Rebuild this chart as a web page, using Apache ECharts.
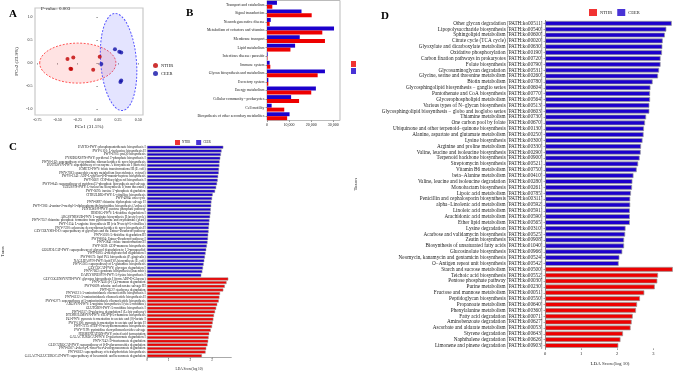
<!DOCTYPE html>
<html>
<head>
<meta charset="utf-8">
<script src="https://cdn.jsdelivr.net/npm/echarts@6/dist/echarts.min.js"></script>
<style>
html, body { margin: 0; padding: 0; background: #fff; }
#chart { width: 675px; height: 376px; }
</style>
</head>
<body>
<div id="chart"></div>
<script>
// panel A - PCoA
const pcoaNTHR = [[-0.377, 0.087], [-0.305, 0.12], [-0.33, -0.13], [-0.34, -0.125], [-0.058, -0.146], [0.023, 0.137]];
const pcoaCEER = [[0.043, -0.02], [0.212, 0.30], [0.266, 0.246], [0.29, 0.23], [0.29, -0.38], [0.28, -0.41]];
// cx, cy, rx, ry, rotation
const ellipseNTHR = [[-0.249, 0.0, 0.473, 0.435, 0]];
const ellipseCEER = [[0.257, 0.024, 0.222, 1.06, 0.08]];
const pcoaXTicks = [-0.75, -0.5, -0.25, 0, 0.25, 0.5];
const pcoaYTicks = [-1, -0.5, 0, 0.5, 1];

// panel B - KEGG level 2 abundance
const bCats = ['Transport and catabolism', 'Signal transduction', 'Neurodegenerative disease',
  'Metabolism of cofactors and vitamins', 'Membrane transport', 'Lipid metabolism',
  'Infectious disease: parasitic', 'Immune system', 'Glycan biosynthesis and metabolism',
  'Excretory system', 'Energy metabolism', 'Cellular community - prokaryotes', 'Cell motility',
  'Biosynthesis of other secondary metabolites'];
const bCEER = [4500, 15600, 1700, 30300, 14800, 12700, 300, 1200, 26200, 600, 22100, 10900, 2100, 10200];
const bNTHR = [2400, 20200, 1200, 25000, 26200, 10600, 200, 1500, 22900, 600, 20000, 14500, 7800, 9100];

// panel C - MetaCyc LEfSe
const cBlueNames = [
  'PANTO-PWY: phosphopantothenate biosynthesis I',
  'PWY-5101: L-isoleucine biosynthesis II',
  'PWY-6703: preQ0 biosynthesis',
  'PYRIDOXSYN-PWY: pyridoxal 5\'-phosphate biosynthesis I',
  'PWY0-162: superpathway of pyrimidine ribonucleotides de novo biosynthesis',
  'PANTOSYN-PWY: superpathway of coenzyme A biosynthesis I (bacteria)',
  '1CMET2-PWY: folate transformations III (E. coli)',
  'PWY-7383: anaerobic energy metabolism (invertebrates, cytosol)',
  'PWY0-1241: ADP-L-glycero-β-D-manno-heptose biosynthesis',
  'PWY-5667: CDP-diacylglycerol biosynthesis I',
  'PWY0-845: superpathway of pyridoxal 5\'-phosphate biosynthesis and salvage',
  'ILEUSYN-PWY: L-isoleucine biosynthesis I (from threonine)',
  'PWY-5695: inosine 5\'-phosphate degradation',
  'CITRULBIO-PWY: L-citrulline biosynthesis',
  'PWY-4984: urea cycle',
  'PWY-6897: thiamine diphosphate salvage II',
  'PWY-7282: 4-amino-2-methyl-5-diphosphomethylpyrimidine biosynthesis (Archaea)',
  'PENTOSE-P-PWY: pentose phosphate pathway',
  'HISDEG-PWY: L-histidine degradation I',
  'ARGSYNBSUB-PWY: L-arginine biosynthesis II (acetyl cycle)',
  'PWY-7357: thiamine phosphate formation from pyrithiamine and oxythiamine (yeast)',
  'PWY-5154: L-arginine biosynthesis III (via N-acetyl-L-citrulline)',
  'PWY-7220: adenosine deoxyribonucleotides de novo biosynthesis II',
  'GLYCOLYSIS-E-D: superpathway of glycolysis and the Entner-Doudoroff pathway',
  'PWY-5030: L-histidine degradation III',
  'PWY-8004: Entner-Doudoroff pathway I',
  'PWY-3841: folate transformations II',
  'PWY-5659: GDP-mannose biosynthesis',
  'GOLPDLCAT-PWY: superpathway of glycerol degradation to 1,3-propanediol',
  'PWY-6185: 4-methylcatechol degradation I',
  'PWY-8073: lipid IVA biosynthesis (P. gingivalis)',
  'NAGLIPASYN-PWY: lipid IVA biosynthesis (E. coli)',
  'PWY-5505: superpathway of L-glutamine biosynthesis',
  'GLYCOCAT-PWY: glycogen degradation I',
  'PWY-7663: gondoate biosynthesis (anaerobic)',
  'DAPLYSINESYN-PWY: L-lysine biosynthesis I'
];
const cBlueScores = [3.53, 3.45, 3.42, 3.39, 3.36, 3.35, 3.33, 3.32, 3.29, 3.27, 3.24, 3.20, 3.15, 3.04, 3.01,
  2.98, 2.97, 2.95, 2.94, 2.92, 2.89, 2.88, 2.86, 2.85, 2.83, 2.82, 2.80, 2.77, 2.74, 2.71, 2.68, 2.65,
  2.62, 2.59, 2.56, 2.51];
const cRedNames = [
  'GLYCOGENSYNTH-PWY: glycogen biosynthesis I (from ADP-D-Glucose)',
  'PWY-7456: β-(1,4)-mannan degradation',
  'PWY-6609: adenine and adenosine salvage III',
  'PWY-6527: stachyose degradation',
  'PWY-6121: 5-aminoimidazole ribonucleotide biosynthesis I',
  'PWY-6122: 5-aminoimidazole ribonucleotide biosynthesis II',
  'PWY-6277: superpathway of 5-aminoimidazole ribonucleotide biosynthesis',
  'ARGSYN-PWY: L-arginine biosynthesis I (via L-ornithine)',
  'GLUTORN-PWY: L-ornithine biosynthesis I',
  'PWY-6317: D-galactose degradation I (Leloir pathway)',
  'DTDPRHAMSYN-PWY: dTDP-β-L-rhamnose biosynthesis',
  'P41-PWY: pyruvate fermentation to acetate and (S)-lactate I',
  'PWY-5100: pyruvate fermentation to acetate and lactate II',
  'PWY-7315: dTDP-N-acetylthomosamine biosynthesis',
  'PWY-7199: pyrimidine deoxyribonucleosides salvage',
  'FERMENTATION-PWY: mixed acid fermentation',
  'GALACTUROCAT-PWY: D-galacturonate degradation I',
  'PWY-7242: D-fructuronate degradation',
  'GLUCUROCAT-PWY: superpathway of β-D-glucuronosides degradation',
  'PWY-6507: 4-deoxy-L-threo-hex-4-enopyranuronate degradation',
  'PWY-6612: superpathway of tetrahydrofolate biosynthesis',
  'GALACT-GLUCUROCAT-PWY: superpathway of hexuronide and hexuronate degradation'
];
const cRedScores = [3.76, 3.68, 3.60, 3.53, 3.38, 3.35, 3.32, 3.25, 3.20, 3.15, 3.10, 3.07, 3.04, 3.01,
  2.95, 2.88, 2.85, 2.83, 2.80, 2.74, 2.71, 2.54];

// panel D - KEGG pathway LEfSe
const dBlueNames = [
  'Other glycan degradation [PATH:ko00511]',
  'Lipopolysaccharide biosynthesis [PATH:ko00540]',
  'Sphingolipid metabolism [PATH:ko00600]',
  'Citrate cycle (TCA cycle) [PATH:ko00020]',
  'Glyoxylate and dicarboxylate metabolism [PATH:ko00630]',
  'Oxidative phosphorylation [PATH:ko00190]',
  'Carbon fixation pathways in prokaryotes [PATH:ko00720]',
  'Folate biosynthesis [PATH:ko00790]',
  'Glycosaminoglycan degradation [PATH:ko00531]',
  'Glycine, serine and threonine metabolism [PATH:ko00260]',
  'Biotin metabolism [PATH:ko00780]',
  'Glycosphingolipid biosynthesis − ganglio series [PATH:ko00604]',
  'Pantothenate and CoA biosynthesis [PATH:ko00770]',
  'Glycerophospholipid metabolism [PATH:ko00564]',
  'Various types of N−glycan biosynthesis [PATH:ko00513]',
  'Glycosphingolipid biosynthesis − globo and isoglobo series [PATH:ko00603]',
  'Thiamine metabolism [PATH:ko00730]',
  'One carbon pool by folate [PATH:ko00670]',
  'Ubiquinone and other terpenoid−quinone biosynthesis [PATH:ko00130]',
  'Alanine, aspartate and glutamate metabolism [PATH:ko00250]',
  'Lysine biosynthesis [PATH:ko00300]',
  'Arginine and proline metabolism [PATH:ko00330]',
  'Valine, leucine and isoleucine biosynthesis [PATH:ko00290]',
  'Terpenoid backbone biosynthesis [PATH:ko00900]',
  'Streptomycin biosynthesis [PATH:ko00521]',
  'Vitamin B6 metabolism [PATH:ko00750]',
  'beta−Alanine metabolism [PATH:ko00410]',
  'Valine, leucine and isoleucine degradation [PATH:ko00280]',
  'Monobactam biosynthesis [PATH:ko00261]',
  'Lipoic acid metabolism [PATH:ko00785]',
  'Penicillin and cephalosporin biosynthesis [PATH:ko00311]',
  'alpha−Linolenic acid metabolism [PATH:ko00592]',
  'Linoleic acid metabolism [PATH:ko00591]',
  'Arachidonic acid metabolism [PATH:ko00590]',
  'Ether lipid metabolism [PATH:ko00565]',
  'Lysine degradation [PATH:ko00310]',
  'Acarbose and validamycin biosynthesis [PATH:ko00525]',
  'Zeatin biosynthesis [PATH:ko00908]',
  'Biosynthesis of unsaturated fatty acids [PATH:ko01040]',
  'Glucosinolate biosynthesis [PATH:ko00966]',
  'Neomycin, kanamycin and gentamicin biosynthesis [PATH:ko00524]',
  'O−Antigen repeat unit biosynthesis [PATH:ko00542]'
];
const dBlueScores = [3.51, 3.36, 3.32, 3.26, 3.25, 3.24, 3.20, 3.20, 3.16, 3.13, 2.98, 2.92, 2.91, 2.91,
  2.89, 2.89, 2.80, 2.77, 2.74, 2.73, 2.70, 2.66, 2.65, 2.62, 2.58, 2.54, 2.45, 2.42, 2.41, 2.38, 2.36,
  2.36, 2.35, 2.35, 2.35, 2.23, 2.22, 2.19, 2.19, 2.14, 2.06, 2.04];
const dRedNames = [
  'Starch and sucrose metabolism [PATH:ko00500]',
  'Teichoic acid biosynthesis [PATH:ko00552]',
  'Pentose phosphate pathway [PATH:ko00030]',
  'Purine metabolism [PATH:ko00230]',
  'Fructose and mannose metabolism [PATH:ko00051]',
  'Peptidoglycan biosynthesis [PATH:ko00550]',
  'Propanoate metabolism [PATH:ko00640]',
  'Phenylalanine metabolism [PATH:ko00360]',
  'Fatty acid degradation [PATH:ko00071]',
  'Aminobenzoate degradation [PATH:ko00627]',
  'Ascorbate and aldarate metabolism [PATH:ko00053]',
  'Styrene degradation [PATH:ko00643]',
  'Naphthalene degradation [PATH:ko00626]',
  'Limonene and pinene degradation [PATH:ko00903]'
];
const dRedScores = [3.54, 3.13, 3.11, 3.04, 2.75, 2.63, 2.55, 2.52, 2.43, 2.40, 2.37, 2.16, 2.09, 2.03];

const serif = 'Liberation Serif';
const RED = '#ee0000';
const BLUE = '#1c00cc';

const chart = echarts.init(document.getElementById('chart'));

// bars of one group get null in the other group's series
function split(blue, red) {
  return {
    blue: blue.concat(red.map(() => null)),
    red: blue.map(() => null).concat(red)
  };
}
const cData = split(cBlueScores, cRedScores);
const dData = split(dBlueScores, dRedScores);

function ellipseItem(fill, stroke) {
  return function (params, api) {
    const c = api.coord([api.value(0), api.value(1)]);
    const s = api.size([api.value(2), api.value(3)]);
    return {
      type: 'ellipse',
      x: c[0], y: c[1],
      rotation: api.value(4),
      shape: { cx: 0, cy: 0, rx: s[0], ry: s[1] },
      style: { fill: fill, stroke: stroke, lineWidth: 1, lineDash: [2, 1.5] }
    };
  };
}

const smallLabel = (size) => ({ fontFamily: serif, fontSize: size, color: '#222' });

const option = {
  animation: false,
  backgroundColor: '#fff',
  title: [
    { text: 'A', left: 4, top: 4, textStyle: { fontFamily: serif, fontSize: 11, fontWeight: 'bold', color: '#000' } },
    { text: 'P-value: 0.003', left: 36, top: 1, textStyle: { fontFamily: serif, fontSize: 5, fontWeight: 'normal', color: '#222' } },
    { text: 'B', left: 181, top: 3, textStyle: { fontFamily: serif, fontSize: 11, fontWeight: 'bold', color: '#000' } },
    { text: 'C', left: 4, top: 137, textStyle: { fontFamily: serif, fontSize: 11, fontWeight: 'bold', color: '#000' } },
    { text: 'D', left: 376, top: 6, textStyle: { fontFamily: serif, fontSize: 11, fontWeight: 'bold', color: '#000' } }
  ],
  legend: [
    {
      data: ['NTHR', 'CEER'], orient: 'vertical', left: 148, top: 58, itemGap: 3,
      itemWidth: 5, itemHeight: 5, icon: 'circle', selectedMode: false,
      textStyle: { fontFamily: serif, fontSize: 4.5, color: '#222', padding: [0, 0, 0, -2] }
    },
    {
      data: [{ name: 'NTHR', itemStyle: { color: RED } }, { name: 'CEER', itemStyle: { color: BLUE } }],
      orient: 'vertical', left: 346, top: 56, itemGap: 1, itemWidth: 5, itemHeight: 6,
      icon: 'rect', selectedMode: false, formatter: () => '', textStyle: { fontSize: 1 }
    },
    {
      data: [{ name: 'NTHR', itemStyle: { color: RED } }, { name: 'CEER', itemStyle: { color: BLUE } }],
      left: 170, top: 135, itemGap: 6, itemWidth: 5, itemHeight: 5, icon: 'rect', selectedMode: false,
      textStyle: { fontFamily: serif, fontSize: 3, color: '#222', padding: [0, 0, 0, -3] }
    },
    {
      data: [{ name: 'NTHR', itemStyle: { color: RED } }, { name: 'CEER', itemStyle: { color: BLUE } }],
      left: 584, top: 4, itemGap: 5, itemWidth: 8, itemHeight: 7, icon: 'rect', selectedMode: false,
      textStyle: { fontFamily: serif, fontSize: 4.5, color: '#222', padding: [0, 0, 0, -2] }
    }
  ],
  grid: [
    { left: 35, top: 8, width: 108, height: 107, show: true, borderColor: '#c8c8c8', borderWidth: 1.2, backgroundColor: '#fff' },
    { left: 267, top: 0.5, width: 73, height: 120, show: true, borderColor: '#bbb', borderWidth: 1 },
    { left: 145.5, top: 145.4, width: 85.8, height: 221.6 },
    { left: 545, top: 20.4, width: 132, height: 328 }
  ],
  xAxis: [
    {
      gridIndex: 0, type: 'value', min: -0.78, max: 0.56,
      name: 'PCo1 (31.5%)', nameLocation: 'middle', nameGap: 9,
      nameTextStyle: { fontFamily: serif, fontSize: 5, color: '#222' },
      axisLine: { show: false }, splitLine: { show: false },
      axisTick: { show: true, length: 1.5, customValues: pcoaXTicks, lineStyle: { color: '#555', width: 0.6 } },
      axisLabel: { customValues: pcoaXTicks, formatter: v => v.toFixed(2), margin: 2.5, ...smallLabel(4) }
    },
    {
      gridIndex: 1, type: 'value', min: 0, max: 33000, interval: 10000,
      axisLine: { show: false }, splitLine: { show: false },
      axisTick: { show: true, length: 1.5, lineStyle: { color: '#555', width: 0.6 } },
      axisLabel: { margin: 2.5, showMaxLabel: false, ...smallLabel(4) }
    },
    {
      gridIndex: 2, type: 'value', min: 0, max: 3.9, interval: 1,
      name: 'LDA Score(log 10)', nameLocation: 'middle', nameGap: 5.5,
      nameTextStyle: { fontFamily: serif, fontSize: 3.5, color: '#222' },
      axisLine: { show: true, lineStyle: { color: '#555', width: 0.5 } }, splitLine: { show: false },
      axisTick: { show: true, length: 1, lineStyle: { color: '#555', width: 0.5 } },
      axisLabel: { margin: 1.5, showMaxLabel: false, ...smallLabel(3.2) }
    },
    {
      gridIndex: 3, type: 'value', min: 0, max: 3.6, interval: 1,
      name: 'LDA Score(log 10)', nameLocation: 'middle', nameGap: 12,
      nameTextStyle: { fontFamily: serif, fontSize: 5, color: '#222' },
      axisLine: { show: false }, splitLine: { show: false },
      axisTick: { show: true, length: 1.5, lineStyle: { color: '#555', width: 0.6 } },
      axisLabel: { margin: 3, showMaxLabel: false, ...smallLabel(4.5) }
    }
  ],
  yAxis: [
    {
      gridIndex: 0, type: 'value', min: -1.13, max: 1.2,
      name: 'PCo2 (23.9%)', nameLocation: 'middle', nameGap: 16,
      nameTextStyle: { fontFamily: serif, fontSize: 5, color: '#222' },
      axisLine: { show: false }, splitLine: { show: false },
      axisTick: { show: true, length: 1.5, customValues: pcoaYTicks, lineStyle: { color: '#555', width: 0.6 } },
      axisLabel: { customValues: pcoaYTicks, formatter: v => v.toFixed(1), margin: 2.5, ...smallLabel(4) }
    },
    {
      gridIndex: 1, type: 'category', data: bCats, inverse: true,
      axisLine: { show: false },
      axisTick: { show: true, length: 1.5, alignWithLabel: true, lineStyle: { color: '#555', width: 0.6 } },
      axisLabel: { interval: 0, margin: 2.5, ...smallLabel(3.8) }
    },
    {
      gridIndex: 2, type: 'category', data: cBlueNames.concat(cRedNames), inverse: true,
      name: 'Taxon', nameLocation: 'middle', nameGap: 142,
      nameTextStyle: { fontFamily: serif, fontSize: 4, color: '#222' },
      axisLine: { show: false }, axisTick: { show: false },
      axisLabel: { interval: 0, margin: 1.5, ...smallLabel(3.3) }
    },
    {
      gridIndex: 3, type: 'category', data: dBlueNames.concat(dRedNames), inverse: true,
      name: 'Taxon', nameLocation: 'middle', nameGap: 187,
      nameTextStyle: { fontFamily: serif, fontSize: 5, color: '#222' },
      axisLine: { show: true, lineStyle: { color: '#555', width: 0.7 } },
      axisTick: { show: true, length: 1.5, alignWithLabel: true, lineStyle: { color: '#555', width: 0.5 } },
      axisLabel: { interval: 0, margin: 2.5, ...smallLabel(5.2) }
    }
  ],
  series: [
    // A
    {
      name: 'NTHR', type: 'scatter', xAxisIndex: 0, yAxisIndex: 0, data: pcoaNTHR,
      symbolSize: 4, itemStyle: { color: '#c00000' }, z: 5
    },
    {
      name: 'CEER', type: 'scatter', xAxisIndex: 0, yAxisIndex: 0, data: pcoaCEER,
      symbolSize: 4, itemStyle: { color: '#1010a8' }, z: 5
    },
    {
      name: 'NTHR', type: 'custom', xAxisIndex: 0, yAxisIndex: 0, data: ellipseNTHR,
      encode: { x: 0, y: 1 }, renderItem: ellipseItem('rgba(255,60,60,0.14)', '#ff5555'), z: 2
    },
    {
      name: 'CEER', type: 'custom', xAxisIndex: 0, yAxisIndex: 0, data: ellipseCEER,
      encode: { x: 0, y: 1 }, renderItem: ellipseItem('rgba(90,90,255,0.16)', '#5555ff'), z: 3
    },
    // B
    {
      name: 'CEER', type: 'bar', xAxisIndex: 1, yAxisIndex: 1, data: bCEER,
      barGap: '0%', barCategoryGap: '8%', itemStyle: { color: BLUE }
    },
    {
      name: 'NTHR', type: 'bar', xAxisIndex: 1, yAxisIndex: 1, data: bNTHR,
      barGap: '0%', barCategoryGap: '8%', itemStyle: { color: RED }
    },
    // C
    {
      name: 'CEER', type: 'bar', xAxisIndex: 2, yAxisIndex: 2, data: cData.blue, stack: 'c',
      barCategoryGap: '18%', itemStyle: { color: BLUE, borderColor: '#999', borderWidth: 0.5 }
    },
    {
      name: 'NTHR', type: 'bar', xAxisIndex: 2, yAxisIndex: 2, data: cData.red, stack: 'c',
      barCategoryGap: '18%', itemStyle: { color: RED, borderColor: '#999', borderWidth: 0.5 }
    },
    // D
    {
      name: 'CEER', type: 'bar', xAxisIndex: 3, yAxisIndex: 3, data: dData.blue, stack: 'd',
      barCategoryGap: '18%', itemStyle: { color: BLUE, borderColor: '#999', borderWidth: 0.7 }
    },
    {
      name: 'NTHR', type: 'bar', xAxisIndex: 3, yAxisIndex: 3, data: dData.red, stack: 'd',
      barCategoryGap: '18%', itemStyle: { color: RED, borderColor: '#999', borderWidth: 0.7 }
    }
  ]
};

chart.setOption(option);
</script>
</body>
</html>
